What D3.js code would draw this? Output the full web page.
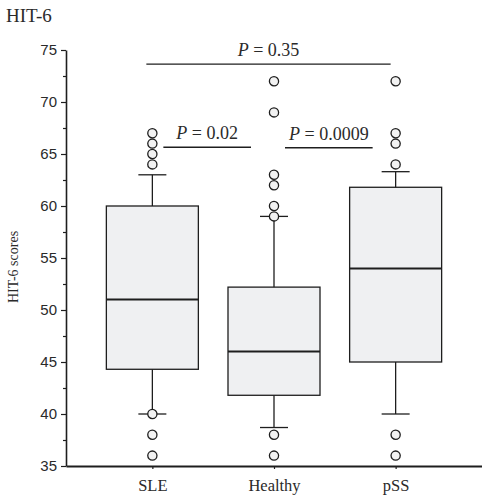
<!DOCTYPE html>
<html>
<head>
<meta charset="utf-8">
<script src="https://cdn.jsdelivr.net/npm/d3@7"></script>
<style>
  body { margin: 0; background: #fff; }
  svg { display: block; }
</style>
</head>
<body>
<div id="wrapper"></div>
<script>
/*global d3*/

// data
const groups = ["SLE", "Healthy", "pSS"]
const q1 = [44.3, 41.8, 45]
const medians = [51, 46, 54]
const q3 = [60, 52.2, 61.8]
const whiskLow = [40, 38.7, 40]
const whiskHigh = [63, 59, 63.3]
const outliers = [
  [67, 66, 65, 64, 40, 38, 36],
  [72, 69, 63, 62, 60, 59, 38, 36],
  [72, 67, 66, 64, 38, 36],
]
const majorTicks = [35, 40, 45, 50, 55, 60, 65, 70, 75]
const minorTicks = [37.5, 42.5, 47.5, 52.5, 57.5, 62.5, 67.5, 72.5]

// comparisons: from group, to group, bar level, label
const compFrom = ["SLE", "SLE", "Healthy"]
const compTo = ["pSS", "Healthy", "pSS"]
const compLevel = [73.65, 65.65, 65.6]
const compP = ["0.35", "0.02", "0.0009"]

function drawBox() {
  const dims = {
    width: 482,
    height: 496,
    margin: { top: 50, right: 0, bottom: 30, left: 66 },
  }
  dims.boundedWidth = dims.width - dims.margin.left - dims.margin.right
  dims.boundedHeight = dims.height - dims.margin.top - dims.margin.bottom

  const ink = "#1e1e1e"
  const fill = "#eff0f2"

  const svg = d3.select("#wrapper").append("svg")
    .attr("width", dims.width)
    .attr("height", dims.height)

  const bounds = svg.append("g")
    .attr("transform", `translate(${dims.margin.left},${dims.margin.top})`)

  const yScale = d3.scaleLinear()
    .domain([35, 75])
    .range([dims.boundedHeight, 0])

  const xScale = d3.scalePoint()
    .domain(groups)
    .range([0, dims.boundedWidth])
    .padding(0.71)

  const halfW = 46
  const capW = 14

  // y axis
  const yAxis = bounds.append("g")
    .call(d3.axisLeft(yScale).tickValues(majorTicks).tickSize(5).tickSizeOuter(0))
  yAxis.select(".domain").attr("stroke", ink).attr("stroke-width", 1.6)
  yAxis.selectAll(".tick line").attr("stroke", ink).attr("stroke-width", 1.2)
  yAxis.selectAll(".tick text")
    .attr("x", -9)
    .attr("fill", "#2a2a2a")
    .style("font-family", "'Liberation Sans', Arial, sans-serif")
    .style("font-size", "15px")

  const yMinor = bounds.append("g")
    .call(d3.axisLeft(yScale).tickValues(minorTicks).tickSize(3).tickFormat(""))
  yMinor.select(".domain").remove()
  yMinor.selectAll(".tick line").attr("stroke", ink).attr("stroke-width", 1.2)

  // x axis
  const xAxis = bounds.append("g")
    .attr("transform", `translate(0,${dims.boundedHeight})`)
    .call(d3.axisBottom(xScale).tickSize(3).tickSizeOuter(0))
  xAxis.select(".domain").attr("stroke", ink).attr("stroke-width", 2)
  xAxis.selectAll(".tick line").attr("stroke", ink).attr("stroke-width", 1.2)
  xAxis.selectAll(".tick text")
    .attr("y", 13)
    .attr("fill", "#2a2a2a")
    .style("font-family", "'Liberation Serif', 'Times New Roman', serif")
    .style("font-size", "16.5px")

  // boxes
  const boxes = bounds.selectAll(".box")
    .data(groups)
    .join("g")
    .attr("class", "box")
    .attr("transform", d => `translate(${xScale(d)},0)`)

  boxes.append("line")
    .attr("y1", (d, i) => yScale(whiskHigh[i]))
    .attr("y2", (d, i) => yScale(whiskLow[i]))
    .attr("stroke", ink).attr("stroke-width", 1.3)

  boxes.append("rect")
    .attr("x", -halfW)
    .attr("width", halfW * 2)
    .attr("y", (d, i) => yScale(q3[i]))
    .attr("height", (d, i) => yScale(q1[i]) - yScale(q3[i]))
    .attr("fill", fill)
    .attr("stroke", ink).attr("stroke-width", 1.3)

  boxes.append("line")
    .attr("x1", -halfW).attr("x2", halfW)
    .attr("y1", (d, i) => yScale(medians[i]))
    .attr("y2", (d, i) => yScale(medians[i]))
    .attr("stroke", ink).attr("stroke-width", 2)

  boxes.selectAll(".cap")
    .data((d, i) => [whiskLow[i], whiskHigh[i]])
    .join("line")
    .attr("class", "cap")
    .attr("x1", -capW).attr("x2", capW)
    .attr("y1", d => yScale(d)).attr("y2", d => yScale(d))
    .attr("stroke", ink).attr("stroke-width", 1.3)

  boxes.selectAll("circle")
    .data((d, i) => outliers[i])
    .join("circle")
    .attr("cy", d => yScale(d))
    .attr("r", 4.6)
    .attr("fill", "#f2f2f2")
    .attr("stroke", ink).attr("stroke-width", 1.3)

  // significance bars
  const comps = bounds.selectAll(".comp")
    .data(compP)
    .join("g")
    .attr("class", "comp")

  const barX1 = (i) => compLevel[i] > 70 ? xScale(compFrom[i]) - 6 : xScale(compFrom[i]) + 11
  const barX2 = (i) => compLevel[i] > 70 ? xScale(compTo[i]) - 5 : xScale(compTo[i]) - 23

  comps.append("line")
    .attr("x1", (d, i) => barX1(i))
    .attr("x2", (d, i) => barX2(i))
    .attr("y1", (d, i) => yScale(compLevel[i]))
    .attr("y2", (d, i) => yScale(compLevel[i]))
    .attr("stroke", ink).attr("stroke-width", 1.3)

  const pText = comps.append("text")
    .attr("x", (d, i) => (barX1(i) + barX2(i)) / 2)
    .attr("y", (d, i) => yScale(compLevel[i]) - 8)
    .attr("text-anchor", "middle")
    .attr("fill", "#2a2a2a")
    .style("font-family", "'Liberation Serif', 'Times New Roman', serif")
    .style("font-size", "18px")
  pText.append("tspan").style("font-style", "italic").text("P")
  pText.append("tspan").text(d => ` = ${d}`)

  // titles
  svg.append("text")
    .attr("x", 6)
    .attr("y", 22)
    .attr("fill", "#2a2a2a")
    .style("font-family", "'Liberation Serif', 'Times New Roman', serif")
    .style("font-size", "19px")
    .text("HIT-6")

  svg.append("text")
    .attr("transform", `translate(18,267) rotate(-90)`)
    .attr("text-anchor", "middle")
    .attr("fill", "#2a2a2a")
    .style("font-family", "'Liberation Serif', 'Times New Roman', serif")
    .style("font-size", "14px")
    .text("HIT-6 scores")
}

drawBox()
</script>
</body>
</html>
